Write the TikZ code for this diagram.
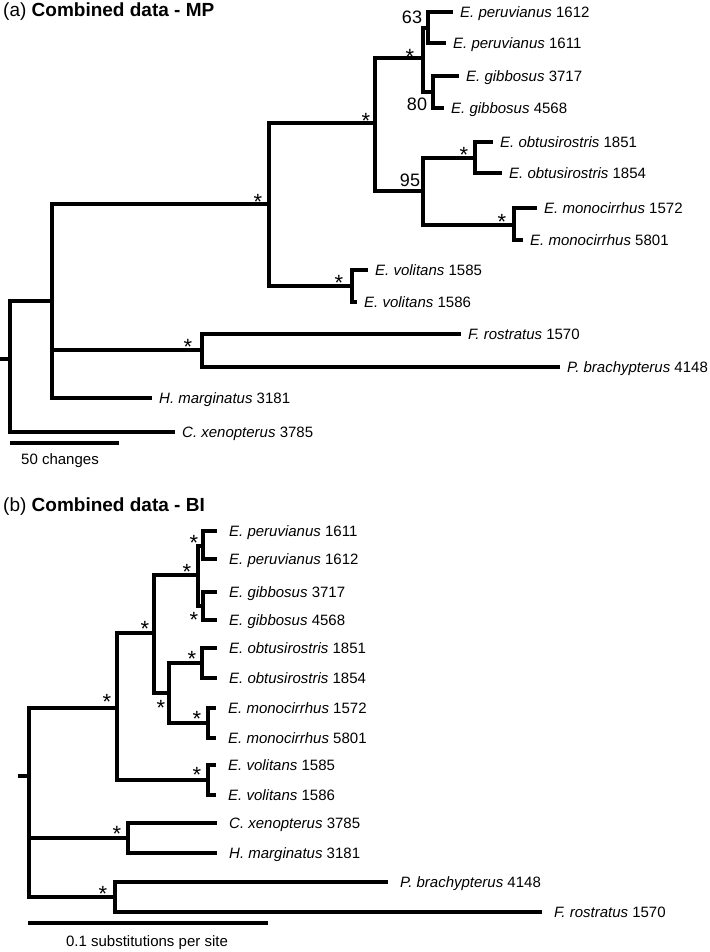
\documentclass[tikz,border=0pt]{standalone}
\usepackage{fontspec}
\setmainfont{Liberation Sans}
\usepackage{tikz}
\newcommand{\taxon}[2]{\textit{#1} #2}

\begin{document}
\begin{tikzpicture}[x=1pt, y=-1pt,
br/.style={line width=3.2pt, line join=miter},
leaf/.style={anchor=west, inner xsep=7pt, inner ysep=0pt, text height=10.7pt,
    text depth=0pt, font=\fontsize{15}{18}\selectfont},
bs/.style={font=\fontsize{22}{24}\selectfont, inner sep=0pt, anchor=base, yshift=-12.5pt},
val/.style={font=\fontsize{18}{21}\selectfont, inner sep=0pt},
ttl/.style={anchor=base west, inner sep=0pt, font=\fontsize{19}{22}\selectfont},
scl/.style={font=\fontsize{15}{18}\selectfont, inner sep=0pt, text height=10.7pt, text depth=0pt}]
\useasboundingbox (0,0) rectangle (709,952);

% (a) MP tree
\node[ttl] (ta) at (3,17) {(a) \textbf{Combined data - MP}};
\coordinate (aR0) at (0,359);
\coordinate (aR) at (10,359);
\coordinate (aB) at (52,301);
\coordinate (aC) at (269,204);
\coordinate (aD) at (375,123);
\coordinate (aE) at (423,58);
\coordinate (aPe) at (428,28);
\coordinate (aGi) at (433,92);
\coordinate (aG) at (423,191);
\coordinate (aOb) at (475,158);
\coordinate (aMo) at (514,225);
\coordinate (aVo) at (352,286);
\coordinate (aFP) at (202,350);
\node[leaf] (a1612) at (453,12) {\taxon{E. peruvianus}{1612}};
\node[leaf] (a1611) at (446,43) {\taxon{E. peruvianus}{1611}};
\node[leaf] (a3717) at (459,76) {\taxon{E. gibbosus}{3717}};
\node[leaf] (a4568) at (444,108) {\taxon{E. gibbosus}{4568}};
\node[leaf] (a1851) at (493,142) {\taxon{E. obtusirostris}{1851}};
\node[leaf] (a1854) at (502,173) {\taxon{E. obtusirostris}{1854}};
\node[leaf] (a1572) at (537,208) {\taxon{E. monocirrhus}{1572}};
\node[leaf] (a5801) at (523,240) {\taxon{E. monocirrhus}{5801}};
\node[leaf] (a1585) at (368,270) {\taxon{E. volitans}{1585}};
\node[leaf] (a1586) at (357,302) {\taxon{E. volitans}{1586}};
\node[leaf] (a1570) at (461,334) {\taxon{F. rostratus}{1570}};
\node[leaf] (a4148) at (560,367) {\taxon{P. brachypterus}{4148}};
\node[leaf] (a3181) at (152,398) {\taxon{H. marginatus}{3181}};
\node[leaf] (a3785) at (175,432) {\taxon{C. xenopterus}{3785}};
\draw[br] (aR0) -- (aR);
\draw[br] (aR) |- (aB);
\draw[br] (aR) |- (a3785.west);
\draw[br] (aB) |- (aC);
\draw[br] (aB) |- (aFP);
\draw[br] (aB) |- (a3181.west);
\draw[br] (aC) |- (aD);
\draw[br] (aC) |- (aVo);
\draw[br] (aD) |- (aE);
\draw[br] (aD) |- (aG);
\draw[br] (aE) |- (aPe);
\draw[br] (aE) |- (aGi);
\draw[br] (aPe) |- (a1612.west);
\draw[br] (aPe) |- (a1611.west);
\draw[br] (aGi) |- (a3717.west);
\draw[br] (aGi) |- (a4568.west);
\draw[br] (aG) |- (aOb);
\draw[br] (aG) |- (aMo);
\draw[br] (aOb) |- (a1851.west);
\draw[br] (aOb) |- (a1854.west);
\draw[br] (aMo) |- (a1572.west);
\draw[br] (aMo) |- (a5801.west);
\draw[br] (aVo) |- (a1585.west);
\draw[br] (aVo) |- (a1586.west);
\draw[br] (aFP) |- (a1570.west);
\draw[br] (aFP) |- (a4148.west);
\node[bs] (asC) at (258,197) {*};
\node[bs] (asD) at (366,116) {*};
\node[bs] (asE) at (410,52) {*};
\node[bs] (asOb) at (464,150) {*};
\node[bs] (asMo) at (502,217) {*};
\node[bs] (asVo) at (339,278) {*};
\node[bs] (asFP) at (188,342) {*};
\node[val] (avPe) at (412,17) {63};
\node[val] (avGi) at (417,104) {80};
\node[val] (avG) at (410,180) {95};
\coordinate (asb0) at (10,443);
\coordinate (asb1) at (119,443);
\draw[br] (asb0) -- (asb1);
\node[scl] (asl) at (60,459) {50 changes};

% (b) BI tree
\begin{scope}[leaf/.append style={inner xsep=12pt}]
\node[ttl] (tb) at (3,511) {(b) \textbf{Combined data - BI}};
\coordinate (bR0) at (18,776);
\coordinate (bR) at (29,776);
\coordinate (bU) at (117,708);
\coordinate (bN1) at (154,633);
\coordinate (bN2) at (198,575);
\coordinate (bPe) at (203,546);
\coordinate (bGi) at (203,606);
\coordinate (bOM) at (169,693);
\coordinate (bOb) at (202,663);
\coordinate (bMo) at (208,723);
\coordinate (bVo) at (208,780);
\coordinate (bCH) at (128,838);
\coordinate (bPF) at (115,897);
\node[leaf] (b1611) at (217,531) {\taxon{E. peruvianus}{1611}};
\node[leaf] (b1612) at (217,559) {\taxon{E. peruvianus}{1612}};
\node[leaf] (b3717) at (217,592) {\taxon{E. gibbosus}{3717}};
\node[leaf] (b4568) at (217,620) {\taxon{E. gibbosus}{4568}};
\node[leaf] (b1851) at (217,648) {\taxon{E. obtusirostris}{1851}};
\node[leaf] (b1854) at (217,678) {\taxon{E. obtusirostris}{1854}};
\node[leaf] (b1572) at (216,708) {\taxon{E. monocirrhus}{1572}};
\node[leaf] (b5801) at (216,738) {\taxon{E. monocirrhus}{5801}};
\node[leaf] (b1585) at (216,765) {\taxon{E. volitans}{1585}};
\node[leaf] (b1586) at (216,795) {\taxon{E. volitans}{1586}};
\node[leaf] (b3785) at (217,823) {\taxon{C. xenopterus}{3785}};
\node[leaf] (b3181) at (217,853) {\taxon{H. marginatus}{3181}};
\node[leaf] (b4148) at (388,882) {\taxon{P. brachypterus}{4148}};
\node[leaf] (b1570) at (542,912) {\taxon{F. rostratus}{1570}};
\draw[br] (bR0) -- (bR);
\draw[br] (bR) |- (bU);
\draw[br] (bR) |- (bCH);
\draw[br] (bR) |- (bPF);
\draw[br] (bU) |- (bN1);
\draw[br] (bU) |- (bVo);
\draw[br] (bN1) |- (bN2);
\draw[br] (bN1) |- (bOM);
\draw[br] (bN2) |- (bPe);
\draw[br] (bN2) |- (bGi);
\draw[br] (bPe) |- (b1611.west);
\draw[br] (bPe) |- (b1612.west);
\draw[br] (bGi) |- (b3717.west);
\draw[br] (bGi) |- (b4568.west);
\draw[br] (bOM) |- (bOb);
\draw[br] (bOM) |- (bMo);
\draw[br] (bOb) |- (b1851.west);
\draw[br] (bOb) |- (b1854.west);
\draw[br] (bMo) |- (b1572.west);
\draw[br] (bMo) |- (b5801.west);
\draw[br] (bVo) |- (b1585.west);
\draw[br] (bVo) |- (b1586.west);
\draw[br] (bCH) |- (b3785.west);
\draw[br] (bCH) |- (b3181.west);
\draw[br] (bPF) |- (b4148.west);
\draw[br] (bPF) |- (b1570.west);
\node[bs] (bsPe) at (194,538) {*};
\node[bs] (bsN2) at (187,567) {*};
\node[bs] (bsGi) at (194,615) {*};
\node[bs] (bsN1) at (145,624) {*};
\node[bs] (bsOb) at (192,654) {*};
\node[bs] (bsOM) at (161,703) {*};
\node[bs] (bsMo) at (197,714) {*};
\node[bs] (bsU) at (107,697) {*};
\node[bs] (bsVo) at (197,770) {*};
\node[bs] (bsCH) at (117,829) {*};
\node[bs] (bsPF) at (103,889) {*};
\coordinate (bsb0) at (28,923);
\coordinate (bsb1) at (268,923);
\draw[br] (bsb0) -- (bsb1);
\node[scl] (bsl) at (147,941) {0.1 substitutions per site};
\end{scope}
\end{tikzpicture}
\end{document}
